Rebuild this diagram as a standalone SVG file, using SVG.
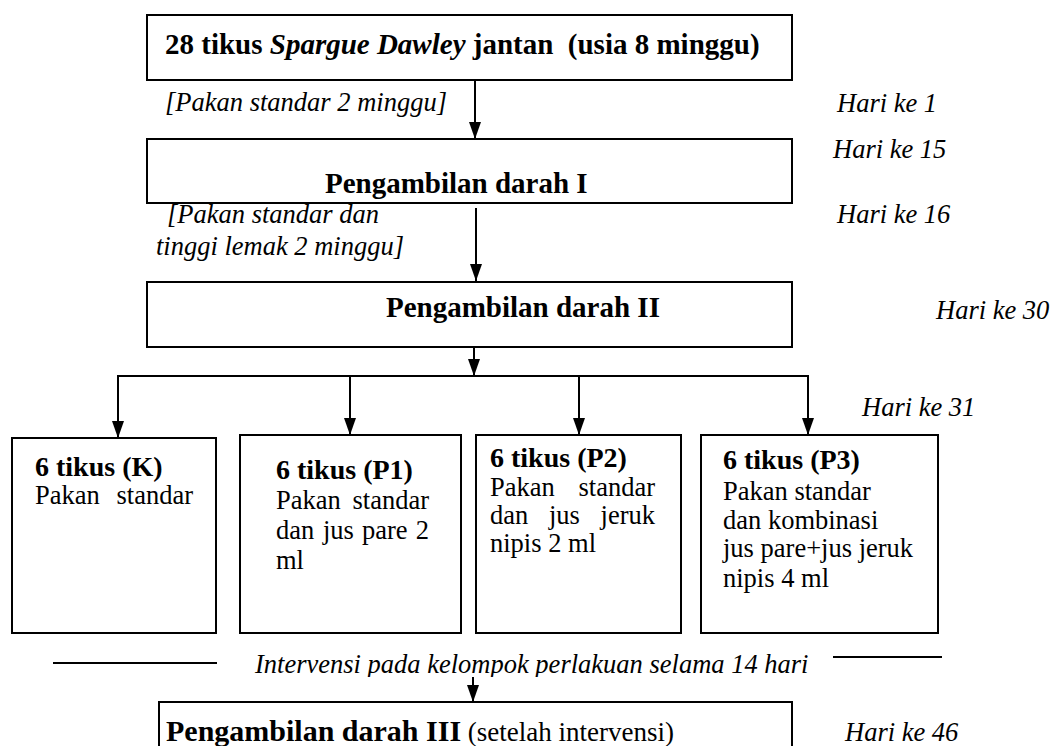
<svg xmlns="http://www.w3.org/2000/svg" width="1053" height="746" viewBox="0 0 1053 746">
<style>
text{font-family:"Liberation Serif","Times New Roman",serif;fill:#000}
.b{font-weight:bold;font-size:29px}
.bs{font-weight:bold;font-size:28px}
.i{font-style:italic;font-size:26.5px}
.r{font-size:26.5px}
.box{fill:#fff;stroke:#000;stroke-width:2}
.ln{stroke:#000;stroke-width:2;fill:none}
</style>
<defs>
<marker id="ah" viewBox="0 0 17 12" refX="17" refY="6" markerWidth="17" markerHeight="12" markerUnits="userSpaceOnUse" orient="auto">
<path d="M0,0 L17,6 L0,12 Z" fill="#000"/>
</marker>
<clipPath id="cutText"><rect x="0" y="600" width="1053" height="77"/></clipPath>
</defs>

<g id="connectors">
<line class="ln" x1="475" y1="80" x2="475" y2="139" marker-end="url(#ah)"/>
<line class="ln" x1="476" y1="208" x2="476" y2="281" marker-end="url(#ah)"/>
<line class="ln" x1="474" y1="347" x2="474" y2="376" marker-end="url(#ah)"/>
<polyline class="ln" points="118,376 808,376 808,435" marker-end="url(#ah)"/>
<line class="ln" x1="350" y1="376" x2="350" y2="435" marker-end="url(#ah)"/>
<line class="ln" x1="579" y1="376" x2="579" y2="435" marker-end="url(#ah)"/>
<line class="ln" x1="118" y1="375" x2="118" y2="438" marker-end="url(#ah)"/>
<line class="ln" x1="473" y1="677" x2="473" y2="702" marker-end="url(#ah)"/>
<line class="ln" x1="53" y1="663" x2="217" y2="663"/>
<line class="ln" x1="833" y1="657" x2="942" y2="657"/>
</g>

<g id="n-start">
<rect class="box" x="147" y="15" width="645" height="65"/>
<text class="b" x="165" y="54" xml:space="preserve">28 tikus <tspan font-style="italic">Spargue Dawley</tspan> jantan  (usia 8 minggu)</text>
</g>

<g id="label-1">
<text class="i" x="165" y="111">[Pakan standar 2 minggu]</text>
<text class="i" x="837" y="112">Hari ke 1</text>
</g>

<g id="n-darah1">
<rect class="box" x="147" y="139" width="645" height="64"/>
<text class="b" x="325" y="193">Pengambilan darah I</text>
</g>
<text class="i" x="833" y="158">Hari ke 15</text>

<g id="label-2">
<text class="i" x="167" y="223">[Pakan standar dan</text>
<text class="i" x="156" y="255">tinggi lemak 2 minggu]</text>
<text class="i" x="837" y="223">Hari ke 16</text>
</g>

<g id="n-darah2">
<rect class="box" x="147" y="282" width="645" height="65"/>
<text class="b" x="386" y="317">Pengambilan darah II</text>
</g>
<text class="i" x="936" y="319">Hari ke 30</text>
<text class="i" x="862" y="416">Hari ke 31</text>

<g id="n-k">
<rect class="box" x="12" y="438" width="204" height="195"/>
<text class="bs" x="35" y="476">6 tikus (K)</text>
<text class="r" y="504"><tspan x="35">Pakan</tspan><tspan x="193" text-anchor="end">standar</tspan></text>
</g>

<g id="n-p1">
<rect class="box" x="240" y="435" width="221" height="198"/>
<text class="bs" x="276" y="479">6 tikus (P1)</text>
<text class="r" y="509"><tspan x="276">Pakan</tspan><tspan x="429" text-anchor="end">standar</tspan></text>
<text class="r" y="539"><tspan x="276">dan</tspan><tspan x="323">jus</tspan><tspan x="362">pare</tspan><tspan x="429" text-anchor="end">2</tspan></text>
<text class="r" x="276" y="569">ml</text>
</g>

<g id="n-p2">
<rect class="box" x="476" y="435" width="205" height="198"/>
<text class="bs" x="490" y="467">6 tikus (P2)</text>
<text class="r" y="496"><tspan x="490">Pakan</tspan><tspan x="655" text-anchor="end">standar</tspan></text>
<text class="r" y="524"><tspan x="490">dan</tspan><tspan x="549">jus</tspan><tspan x="655" text-anchor="end">jeruk</tspan></text>
<text class="r" x="490" y="552">nipis 2 ml</text>
</g>

<g id="n-p3">
<rect class="box" x="701" y="435" width="237" height="198"/>
<text class="bs" x="723" y="469">6 tikus (P3)</text>
<text class="r" x="723" y="500">Pakan standar</text>
<text class="r" x="723" y="529">dan kombinasi</text>
<text class="r" x="723" y="557">jus pare+jus jeruk</text>
<text class="r" x="723" y="587">nipis 4 ml</text>
</g>

<g id="label-intervensi">
<text class="i" x="255" y="673" clip-path="url(#cutText)">Intervensi pada kelompok perlakuan selama 14 hari</text>
</g>

<g id="n-darah3">
<rect class="box" x="159" y="702" width="633" height="70"/>
<text x="166" y="741"><tspan font-weight="bold" font-size="30px">Pengambilan darah III</tspan><tspan font-size="27px"> (setelah intervensi)</tspan></text>
</g>
<text class="i" x="845" y="741">Hari ke 46</text>
</svg>
